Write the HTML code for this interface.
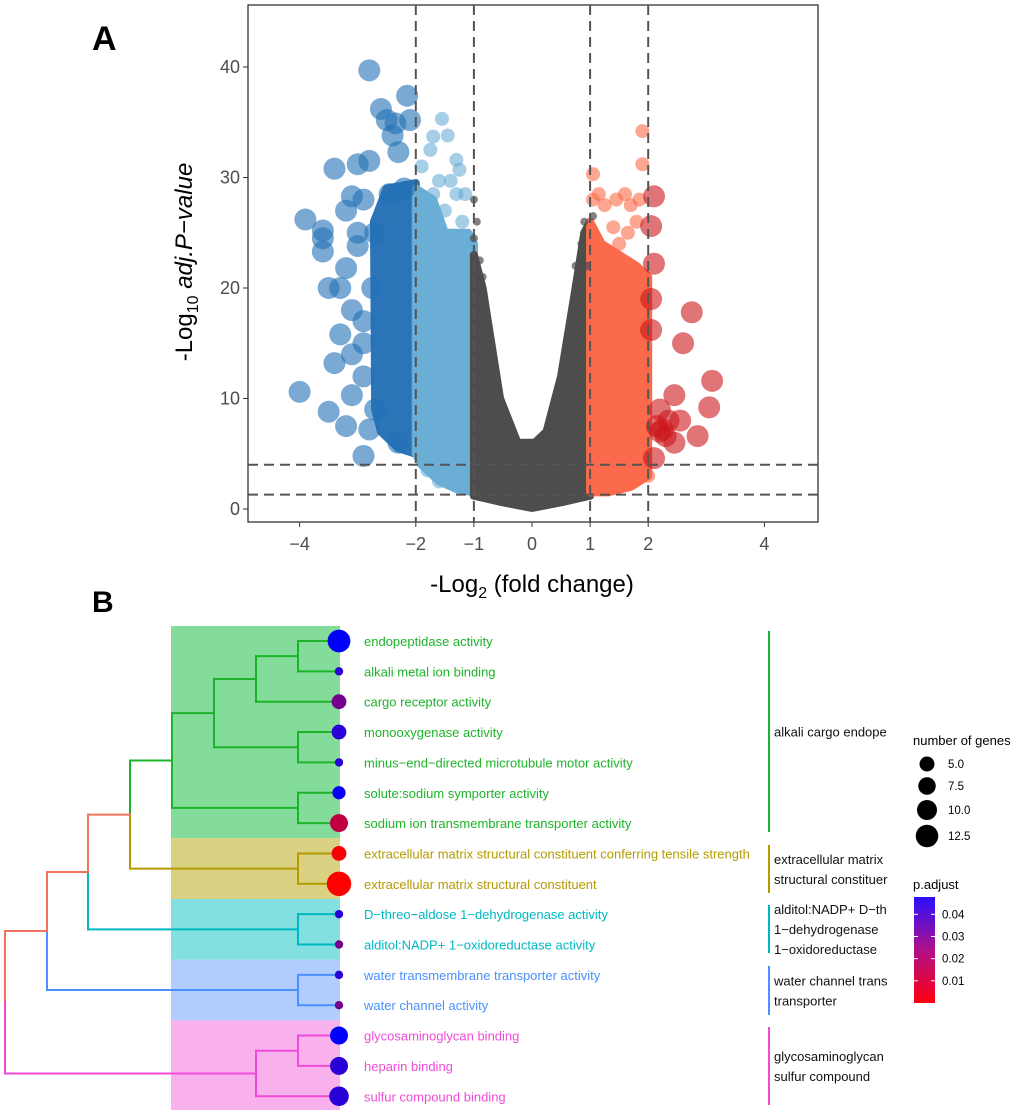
<!DOCTYPE html>
<html><head><meta charset="utf-8"><style>
body{margin:0;background:#fff;font-family:"Liberation Sans",sans-serif}
svg{display:block}
</style></head><body>
<svg id="fig" width="1020" height="1116" viewBox="0 0 1020 1116">
<text x="92" y="50" font-size="34" font-weight="bold">A</text>
<text x="92" y="612" font-size="30" font-weight="bold">B</text>
<g id="volcano"></g>
<g id="tree"></g>
</svg>
<script>
// ---------- Panel A data ----------
const xTicks=[-4,-2,-1,0,1,2,4];
const yTicks=[0,10,20,30,40];
const vLines=[-2,-1,1,2];
const hLines=[4,1.3];
// density envelopes [x,y]
const darkCloud=[[-2.7,9],[-2.72,26],[-2.5,29],[-2.0,29.5],[-2.0,5],[-2.3,5.5],[-2.6,7]];
const lightCloud=[[-2,29],[-1.7,28],[-1.5,25],[-1.1,25],[-1,24],[-1,1.5],[-1.3,1.8],[-1.6,2.5],[-1.9,4],[-2,5]];
const greyCloud=[[-1,1.2],[-1,23],[-0.85,20],[-0.55,10],[-0.25,6],[0.05,6],[0.25,7],[0.5,12],[0.75,20],[0.9,25],[1,26],[1,1.2],[0.5,0.6],[0,0.1],[-0.5,0.6]];
const orangeCloud=[[1,1.5],[1,26],[1.2,24],[1.5,23],[1.8,22],[2,21],[2,3],[1.7,2],[1.3,1.5]];
const darkX=[-2.8,-2.6,-2.5,-2.35,-2.15,-2.1,-2.4,-2.3,-3.4,-3.0,-2.8,-3.1,-2.9,-3.2,-3.9,-3.6,-3.6,-3.0,-3.6,-3.2,-3.0,-3.5,-3.3,-3.1,-2.9,-3.3,-3.4,-3.1,-2.9,-3.1,-4.0,-3.5,-3.2,-2.8,-2.9,-2.3,-2.7,-2.9,-2.75,-2.7,-2.2,-2.45];
const darkY=[39.7,36.2,35.2,34.9,37.4,35.2,33.8,32.3,30.8,31.2,31.5,28.3,28,27,26.2,25.2,24.5,25,23.3,21.8,23.8,20,20,18,17,15.8,13.2,14,12,10.3,10.6,8.8,7.5,7.2,4.8,6,9,15,20,25,29,28.5];
const lightX=[-1.55,-1.7,-1.45,-1.75,-1.3,-1.25,-1.6,-1.4,-1.7,-1.3,-1.15,-1.5,-1.8,-1.6,-1.8,-1.9,-1.2];
const lightY=[35.3,33.7,33.8,32.5,31.6,30.7,29.7,29.7,28.5,28.5,28.5,27,27,2.5,3.5,31,26];
const greyX=[-1,-0.95,-0.9,-0.85,0.85,0.9,0.95,1.05,0.15,-1.0,0.75];
const greyY=[28,26,22.5,21,24,26,22,26.5,6.5,24.5,22];
const orangeX=[1.05,1.05,1.15,1.25,1.45,1.6,1.7,1.85,1.9,1.9,1.4,1.65,1.2,1.5,1.8,1.15,1.75,2.0,1.3,1.85,1.9,1.7,1.1,1.55];
const orangeY=[30.3,28,28.5,27.5,28,28.5,27.5,28,31.2,34.2,25.5,25,23.5,24,26,2.5,2.5,3,13,14,11,18,22,20];
const redX=[2.1,2.05,2.1,2.05,2.05,2.75,2.6,3.1,3.05,2.45,2.55,2.2,2.3,2.45,2.85,2.1,2.2,2.35,2.15,2.25];
const redY=[28.3,25.6,22.2,19,16.2,17.8,15,11.6,9.2,10.3,8,7,6.6,6,6.6,4.6,9,8,7.5,7.2];

// ---------- Panel B data ----------
const terms=["endopeptidase activity","alkali metal ion binding","cargo receptor activity","monooxygenase activity","minus\u2212end\u2212directed microtubule motor activity","solute:sodium symporter activity","sodium ion transmembrane transporter activity","extracellular matrix structural constituent conferring tensile strength","extracellular matrix structural constituent","D\u2212threo\u2212aldose 1\u2212dehydrogenase activity","alditol:NADP+ 1\u2212oxidoreductase activity","water transmembrane transporter activity","water channel activity","glycosaminoglycan binding","heparin binding","sulfur compound binding"];
const geneCount=[13,4,8,8,4,7,10,8,14,4,4,4,4,10,10,11];
const pAdj=[0.045,0.038,0.025,0.038,0.038,0.044,0.012,0.002,0.001,0.038,0.025,0.038,0.025,0.045,0.038,0.038];
const termCluster=[0,0,0,0,0,0,0,1,1,2,2,3,3,4,4,4];
const clusterColors=["#1db32a","#b39b00","#00b8c2","#4a90ff","#f04bd8"];
const clusterFills=["#84dc9b","#dbd182","#83e0e0","#b1cdfd","#f8b1ec"];
const clusterLabels=[["alkali cargo endope"],["extracellular matrix","structural constituer"],["alditol:NADP+ D\u2212th","1\u2212dehydrogenase","1\u2212oxidoreductase"],["water channel trans","transporter"],["glycosaminoglycan","sulfur compound"]];
const sizeLegend=[5,7.5,10,12.5];
const pLegend=[0.04,0.03,0.02,0.01];

const NS="http://www.w3.org/2000/svg";
function mk(tag,attrs,parent){const e=document.createElementNS(NS,tag);for(const k in attrs)e.setAttribute(k,attrs[k]);parent.appendChild(e);return e;}

// ---------- Panel A ----------
const V=document.getElementById('volcano');
const X0=248,X1=818,Y0=5,Y1=522;
const sx=v=>532+v*58.1;
const sy=v=>509-v*11.05;
const frame=mk('rect',{x:X0,y:Y0,width:X1-X0,height:Y1-Y0,fill:'none',stroke:'#333','stroke-width':1.3},V);


function cloud(pts,color,name){const p=mk('polygon',{points:pts.map(q=>sx(q[0])+','+sy(q[1])).join(' '),fill:color,stroke:color,'stroke-width':8,'stroke-linejoin':'round'},V);

}
cloud(darkCloud,'#2b74b8','down-strong-cloud');
cloud(lightCloud,'#6aaed6','down-weak-cloud');
cloud(greyCloud,'#4d4d4d','ns-cloud');
cloud(orangeCloud,'#fb6a4a','up-weak-cloud');
function pts(xs,ys,r,color,op,name){for(let i=0;i<xs.length;i++){const c=mk('circle',{cx:sx(xs[i]),cy:sy(ys[i]),r:r,fill:color,'fill-opacity':op},V);

}}
pts(greyX,greyY,4,'#4d4d4d',0.7,'ns-point');
pts(lightX,lightY,7,'#6baed6',0.6,'down-weak-point');
pts(orangeX,orangeY,7,'#fb6a4a',0.6,'up-weak-point');
pts(darkX,darkY,11,'#2171b5',0.6,'down-strong-point');
pts(redX,redY,11,'#cb181d',0.6,'up-strong-point');
vLines.forEach(v=>{const l=mk('line',{x1:sx(v),x2:sx(v),y1:Y0,y2:Y1,stroke:'#555','stroke-width':2,'stroke-dasharray':'10,6'},V);

});
hLines.forEach(v=>{const l=mk('line',{x1:X0,x2:X1,y1:sy(v),y2:sy(v),stroke:'#555','stroke-width':2,'stroke-dasharray':'10,6'},V);

});
xTicks.forEach(v=>{mk('line',{x1:sx(v),x2:sx(v),y1:Y1,y2:Y1+5,stroke:'#333'},V);
const t=mk('text',{x:sx(v),y:Y1+28,'font-size':18,'text-anchor':'middle',fill:'#4d4d4d'},V);t.textContent=(v<0?'\u2212'+(-v):v);

});
yTicks.forEach(v=>{mk('line',{x1:X0-5,x2:X0,y1:sy(v),y2:sy(v),stroke:'#333'},V);
const t=mk('text',{x:X0-8,y:sy(v)+6,'font-size':18,'text-anchor':'end',fill:'#4d4d4d'},V);t.textContent=v;

});
</script>
<script>
// axis titles
(function(){
const V=document.getElementById('volcano');
const xt=document.createElementNS(NS,'text');
xt.setAttribute('x',532);xt.setAttribute('y',592);xt.setAttribute('font-size',24);xt.setAttribute('text-anchor','middle');
xt.innerHTML='-Log<tspan font-size="16" dy="6">2</tspan><tspan dy="-6"> (fold change)</tspan>';


V.appendChild(xt);
const yt=document.createElementNS(NS,'text');
yt.setAttribute('transform','translate(192,262) rotate(-90)');yt.setAttribute('font-size',24);yt.setAttribute('text-anchor','middle');
yt.innerHTML='-Log<tspan font-size="16" dy="6">10</tspan><tspan dy="-6" font-style="italic"> adj.P\u2212value</tspan>';


V.appendChild(yt);
})();

// ---------- Panel B ----------
const T=document.getElementById('tree');
const rowY=i=>641+i*30.35;
const DX=339;
const bounds=[[0,6],[7,8],[9,10],[11,12],[13,15]];
bounds.forEach((b,c)=>{const top=c===0?626:rowY(b[0])-15.2;const bot=c===4?1110:rowY(b[1])+15.2;
const r=mk('rect',{x:171,y:top,width:169,height:bot-top,fill:clusterFills[c]},T);

});
const segs=[];
function H(x1,x2,y,c){segs.push([x1,y,x2,y,c]);}
function Vt(x,y1,y2,c){segs.push([x,y1,x,y2,c]);}
const m=(a,b)=>(a+b)/2;
const y=rowY;
const a1=m(y(0),y(1));H(298,DX,y(0),0);H(298,DX,y(1),0);Vt(298,y(0),y(1),0);
const a2=m(a1,y(2));H(256,298,a1,0);H(256,DX,y(2),0);Vt(256,a1,y(2),0);
const b1=m(y(3),y(4));H(298,DX,y(3),0);H(298,DX,y(4),0);Vt(298,y(3),y(4),0);
const a3=m(a2,b1);H(214,256,a2,0);H(214,298,b1,0);Vt(214,a2,b1,0);
const c1=m(y(5),y(6));H(298,DX,y(5),0);H(298,DX,y(6),0);Vt(298,y(5),y(6),0);
const g=m(a3,c1);H(172,214,a3,0);H(172,298,c1,0);Vt(172,a3,c1,0);
const d1=m(y(7),y(8));H(298,DX,y(7),1);H(298,DX,y(8),1);Vt(298,y(7),y(8),1);
const e1=m(g,d1);H(130,172,g,0);H(130,298,d1,1);Vt(130,g,e1,0);Vt(130,e1,d1,1);
const f1=m(y(9),y(10));H(298,DX,y(9),2);H(298,DX,y(10),2);Vt(298,y(9),y(10),2);
const e2=m(e1,f1);H(88,130,e1,-1);H(88,298,f1,2);Vt(88,e1,e2,-1);Vt(88,e2,f1,2);
const h1=m(y(11),y(12));H(298,DX,y(11),3);H(298,DX,y(12),3);Vt(298,y(11),y(12),3);
const e3=m(e2,h1);H(47,88,e2,-1);H(47,298,h1,3);Vt(47,e2,e3,-1);Vt(47,e3,h1,3);
const p1=m(y(13),y(14));H(298,DX,y(13),4);H(298,DX,y(14),4);Vt(298,y(13),y(14),4);
const p2=m(p1,y(15));H(256,298,p1,4);H(256,DX,y(15),4);Vt(256,p1,y(15),4);
const e4=m(e3,p2);H(5,47,e3,-1);H(5,256,p2,4);Vt(5,e3,e4,-1);Vt(5,e4,p2,4);
segs.forEach(s=>{const l=mk('line',{x1:s[0],y1:s[1],x2:s[2],y2:s[3],stroke:s[4]<0?'#f0735f':clusterColors[s[4]],'stroke-width':2,'stroke-linecap':'square'},T);

});
function pcol(p){const t=Math.max(0,Math.min(1,(p-0.001)/(0.045-0.001)));const r=Math.round(255*(1-t)),b=Math.round(255*t);return `rgb(${r},0,${b})`;}
const rad=n=>1+n*0.8;
terms.forEach((name,i)=>{
const c=mk('circle',{cx:DX,cy:rowY(i),r:rad(geneCount[i]),fill:pcol(pAdj[i])},T);


const t=mk('text',{x:364,y:rowY(i)+5,'font-size':13,fill:clusterColors[termCluster[i]]},T);t.textContent=name;

});
const barB=[[631,832],[845,893],[905,953],[966,1015],[1027,1105]];
barB.forEach((b,c)=>{const l=mk('line',{x1:769,x2:769,y1:b[0],y2:b[1],stroke:clusterColors[c],'stroke-width':2},T);


const lines=clusterLabels[c];const mid=(b[0]+b[1])/2;const y0=mid-(lines.length-1)*10+5;
lines.forEach((s,k)=>{const t=mk('text',{x:774,y:y0+k*20,'font-size':13,fill:'#111'},T);t.textContent=s;

});});
const st=mk('text',{x:913,y:745,'font-size':13},T);st.textContent='number of genes';


sizeLegend.forEach((n,k)=>{const yy=[764,786,810,836][k];
const c=mk('circle',{cx:927,cy:yy,r:5+n*0.5,fill:'#000'},T);


const t=mk('text',{x:948,y:yy+4,'font-size':11.5},T);t.textContent=n.toFixed(1);

});
const pt=mk('text',{x:913,y:889,'font-size':13},T);pt.textContent='p.adjust';


const defs=mk('defs',{},T);const lg=mk('linearGradient',{id:'pg',x1:0,y1:0,x2:0,y2:1},defs);
mk('stop',{offset:0,'stop-color':'#2a10ff'},lg);mk('stop',{offset:0.5,'stop-color':'#b0108a'},lg);mk('stop',{offset:1,'stop-color':'#ff0010'},lg);
const cb=mk('rect',{x:914,y:897,width:21,height:106,fill:'url(#pg)'},T);


const cy=p=>1003-(p-0.0)/0.0478*106;
pLegend.forEach(p=>{const yy=cy(p);
mk('line',{x1:914,x2:918,y1:yy,y2:yy,stroke:'#fff'},T);mk('line',{x1:931,x2:935,y1:yy,y2:yy,stroke:'#fff'},T);
const t=mk('text',{x:942,y:yy+4,'font-size':11.5},T);t.textContent=p.toFixed(2);

});
</script>
</body></html>
